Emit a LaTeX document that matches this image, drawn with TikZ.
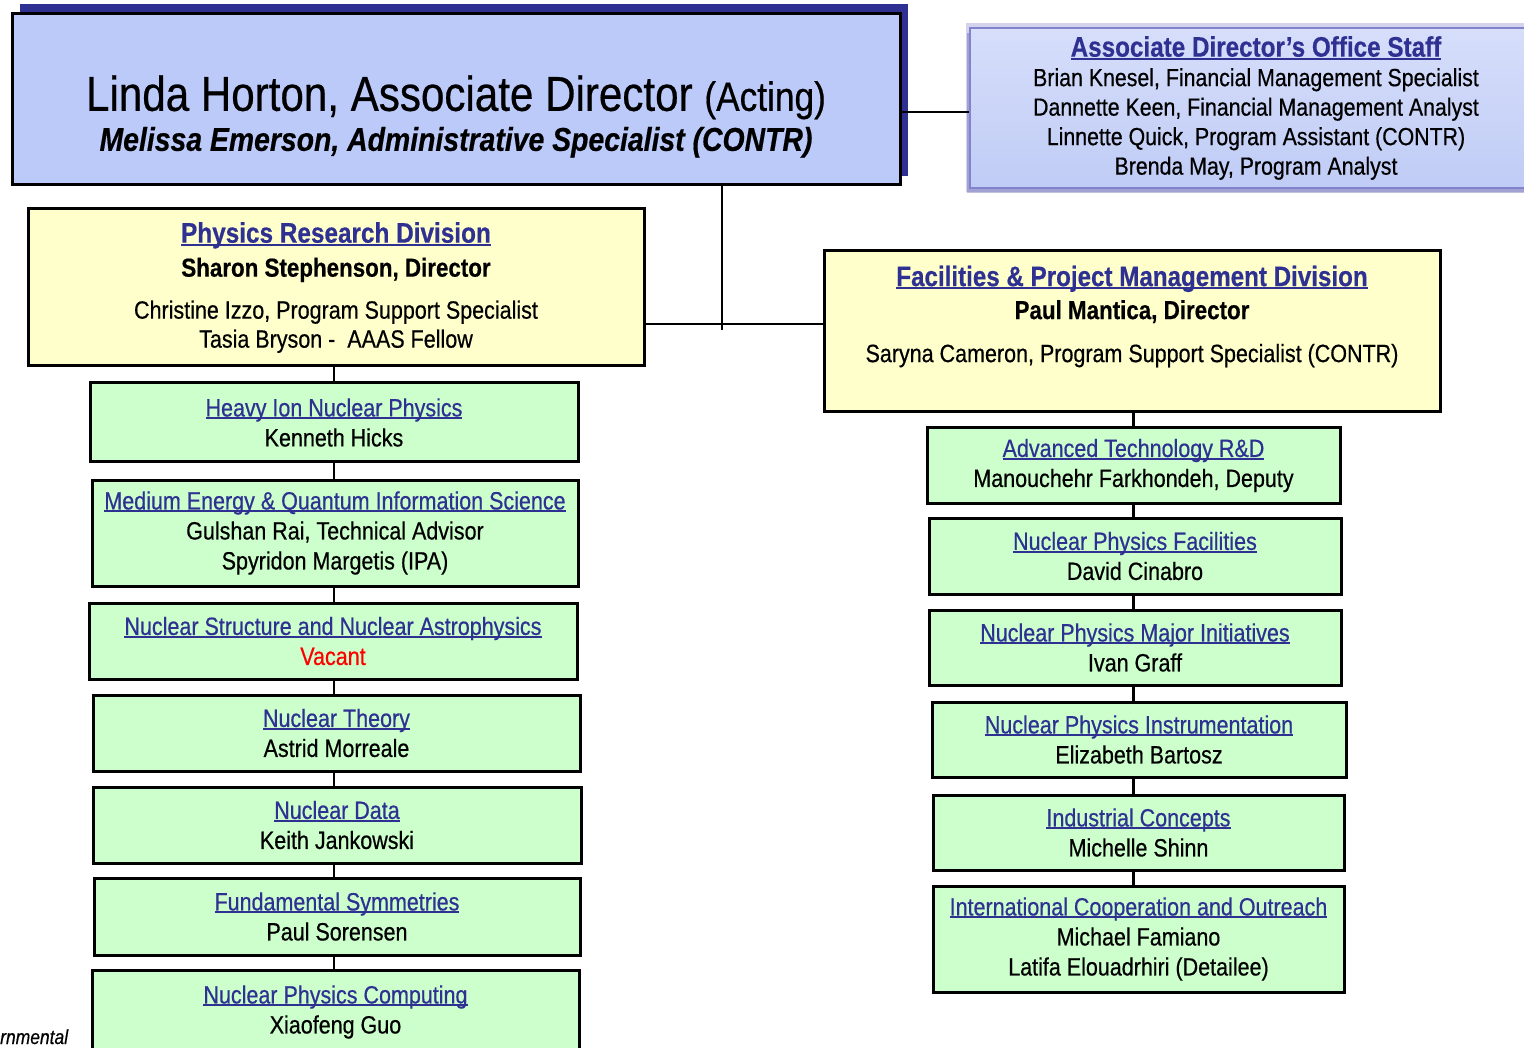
\documentclass[tikz,border=0pt]{standalone}
\usepackage{fontspec}
\setmainfont{Liberation Sans}[FakeStretch=0.86,FakeBold=0.5]
\usetikzlibrary{positioning,shadows}

\definecolor{linkblue}{RGB}{46,49,146}
\definecolor{adfill}{RGB}{188,202,250}
\definecolor{adshade}{RGB}{46,49,146}
\definecolor{divfill}{RGB}{255,255,204}
\definecolor{teamfill}{RGB}{204,255,204}
\definecolor{staffedge}{RGB}{130,130,205}
\definecolor{stafftop}{RGB}{214,222,250}
\definecolor{staffbot}{RGB}{192,204,246}
\newcommand{\unitttl}[1]{{\color{linkblue}\setbox0\hbox{#1}\rlap{\rule[-0.12em]{\wd0}{0.08em}}\box0}}

\begin{document}
\begin{tikzpicture}[x=1pt,y=-1pt,
    every node/.style={align=center,inner sep=0pt},
    teambox/.style={draw=black,line width=3pt,fill=teamfill,font=\fontsize{25}{30}\selectfont},
    divbox/.style={draw=black,line width=3pt,fill=divfill},
    staffbox/.style={draw=staffedge,line width=2pt,top color=stafftop,bottom color=staffbot,
      preaction={draw=staffedge,draw opacity=0.35,line width=9pt},
      drop shadow={shadow xshift=-3pt,shadow yshift=-5pt,opacity=0.3,fill=adshade}},
    link/.style={draw=black,line width=2.5pt}]

    %page size and clipping
    \useasboundingbox (0,0) rectangle (1524,1048);
    \clip (0,0) rectangle (1524,1048);

    %associate director
    \fill[adshade] (20,4) rectangle (908,176);
    \node[draw=black,line width=3pt,fill=adfill,minimum width=888pt,minimum height=171pt] (ad) at (456,99.5) {};
    \node[font=\fontsize{33}{40}\selectfont] (adtext) at ([yshift=-17pt]ad.center)
      {{\fontsize{49}{40}\selectfont Linda Horton, Associate Director {\fontsize{41}{40}\selectfont(Acting)}}\\
       {\bfseries\itshape Melissa Emerson, Administrative Specialist (CONTR)}};

    %office staff
    \node[staffbox,minimum width=572pt,minimum height=160pt,font=\fontsize{24.8}{29.5}\selectfont] (staff) at (1256,108)
      {{\bfseries\fontsize{28.2}{29.5}\selectfont\unitttl{Associate Director’s Office Staff}}\\
       Brian Knesel, Financial Management Specialist\\
       Dannette Keen, Financial Management Analyst\\
       Linnette Quick, Program Assistant (CONTR)\\
       Brenda May, Program Analyst};

    %divisions
    \node[divbox,minimum width=616pt,minimum height=157pt,font=\fontsize{25}{29}\selectfont] (prd) at (336,287.5)
      {{\bfseries\fontsize{28.3}{29}\selectfont\unitttl{Physics Research Division}}\\[5pt]
       {\bfseries\fontsize{26}{29}\selectfont Sharon Stephenson, Director}\\[13pt]
       Christine Izzo, Program Support Specialist\\
       Tasia Bryson -\ \ AAAS Fellow};
    \node[divbox,minimum width=616pt,minimum height=161pt] (fpm) at (1132,331.5) {};
    \node[font=\fontsize{25}{29}\selectfont] (fpmtext) at ([yshift=15pt]fpm.center)
      {{\bfseries\fontsize{28.1}{29}\selectfont\unitttl{Facilities \& Project Management Division}}\\[4pt]
       {\bfseries\fontsize{26}{29}\selectfont Paul Mantica, Director}\\[14pt]
       Saryna Cameron, Program Support Specialist (CONTR)};

    %research teams
    \node[teambox,minimum width=488pt,minimum height=79pt] (heavy) at (334,422.5)
      {\unitttl{Heavy Ion Nuclear Physics}\\ Kenneth Hicks};
    \node[teambox,minimum width=486pt,minimum height=106pt] (medium) at (335,533)
      {\unitttl{Medium Energy \& Quantum Information Science}\\ Gulshan Rai, Technical Advisor\\ Spyridon Margetis (IPA)};
    \node[teambox,minimum width=488pt,minimum height=76pt] (structure) at (333,641)
      {\unitttl{Nuclear Structure and Nuclear Astrophysics}\\ \textcolor{red}{Vacant}};
    \node[teambox,minimum width=487pt,minimum height=76pt] (theory) at (336.5,733)
      {\unitttl{Nuclear Theory}\\ Astrid Morreale};
    \node[teambox,minimum width=488pt,minimum height=76pt] (data) at (337,825)
      {\unitttl{Nuclear Data}\\ Keith Jankowski};
    \node[teambox,minimum width=486pt,minimum height=77pt] (fund) at (337,916.5)
      {\unitttl{Fundamental Symmetries}\\ Paul Sorensen};
    \node[teambox,minimum width=487pt,minimum height=84pt] (comp) at (335.5,1012)
      {\unitttl{Nuclear Physics Computing}\\ Xiaofeng Guo};

    %facility teams
    \node[teambox,minimum width=413pt,minimum height=75pt] (adv) at (1133.5,465.5)
      {\unitttl{Advanced Technology R\&D}\\ Manouchehr Farkhondeh, Deputy};
    \node[teambox,minimum width=412pt,minimum height=76pt] (fac) at (1135,556)
      {\unitttl{Nuclear Physics Facilities}\\ David Cinabro};
    \node[teambox,minimum width=412pt,minimum height=75pt] (major) at (1135,647.5)
      {\unitttl{Nuclear Physics Major Initiatives}\\ Ivan Graff};
    \node[teambox,minimum width=414pt,minimum height=75pt] (instr) at (1139,739.5)
      {\unitttl{Nuclear Physics Instrumentation}\\ Elizabeth Bartosz};
    \node[teambox,minimum width=411pt,minimum height=75pt] (ind) at (1138.5,832.5)
      {\unitttl{Industrial Concepts}\\ Michelle Shinn};
    \node[teambox,minimum width=411pt,minimum height=106pt] (intl) at (1138.5,939)
      {\unitttl{International Cooperation and Outreach}\\ Michael Famiano\\ Latifa Elouadrhiri (Detailee)};

    \node[anchor=base west,font=\fontsize{20.3}{24}\selectfont\itshape] (envnote) at (0,1044) {rnmental};

    %connectors
    \coordinate (hub) at (722,324);
    \draw[link] (ad.east |- 0,112) -- (staff.west |- 0,112);
    \draw[link] (hub |- ad.south) -- ([yshift=-6pt]hub);
    \draw[link] (prd.east |- hub) -- (fpm.west |- hub);
    \foreach \a/\b in {prd/heavy,heavy/medium,medium/structure,structure/theory,theory/data,data/fund,fund/comp}
      \draw[link] (\a.south -| heavy.north) -- (\b.north -| heavy.north);
    \foreach \a/\b in {fpm/adv,adv/fac,fac/major,major/instr,instr/ind,ind/intl}
      \draw[link] (\a.south -| adv.north) -- (\b.north -| adv.north);

\end{tikzpicture}
\end{document}
